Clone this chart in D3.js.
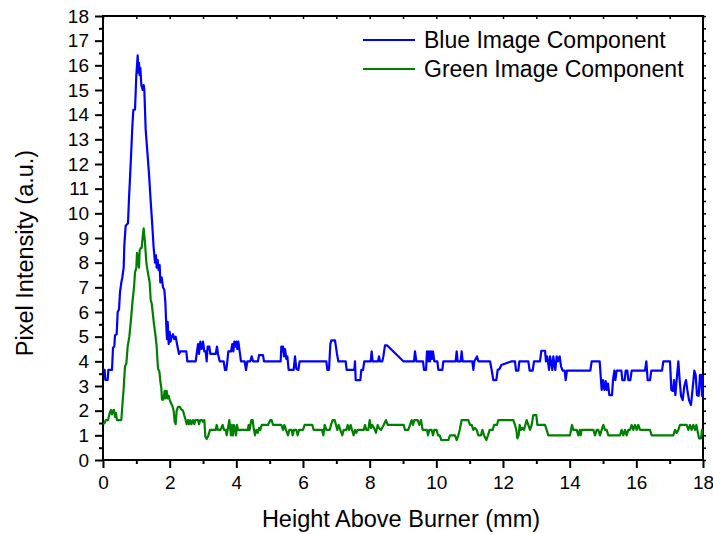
<!DOCTYPE html>
<html>
<head>
<meta charset="utf-8">
<script src="https://cdn.jsdelivr.net/npm/d3@7"></script>
<style>
  html, body { margin: 0; padding: 0; background: #fff; }
  svg { display: block; font-family: "Liberation Sans", Arial, sans-serif; }
</style>
</head>
<body>
<svg id="chart" width="713" height="534"></svg>
<script>
// Axis settings
const xDomain = [0, 18];
const yDomain = [0, 18];
const xMajorTicks = [0, 2, 4, 6, 8, 10, 12, 14, 16, 18];
const yMajorTicks = d3.range(0, 19);
const xLabel = "Height Above Burner (mm)";
const yLabel = "Pixel Intensity (a.u.)";
const seriesNames = ["Blue Image Component", "Green Image Component"];
const seriesColors = ["#0000ff", "#008000"];

// Blue component profile: [height (mm), intensity]
const blueProfile = [
  [0.00,3.65],[0.05,3.65],[0.07,3.25],[0.14,3.25],[0.16,3.65],[0.27,3.65],[0.30,4.55],[0.34,4.6],
  [0.36,5.05],[0.41,5.1],[0.44,6.0],[0.48,6.1],[0.51,6.8],[0.55,7.2],[0.58,7.4],[0.62,7.8],
  [0.64,8.7],[0.68,9.5],[0.75,9.6],[0.78,10.6],[0.83,12.0],[0.88,13.5],[0.91,14.2],[0.96,14.2],
  [1.00,15.6],[1.04,16.4],[1.06,15.7],[1.08,16.1],[1.10,15.6],[1.12,15.9],[1.15,15.2],[1.19,15.0],
  [1.22,15.2],[1.24,15.0],[1.28,13.4],[1.33,12.5],[1.38,11.6],[1.43,10.5],[1.47,9.7],[1.52,8.6],
  [1.56,8.0],[1.59,8.3],[1.61,7.8],[1.64,8.1],[1.67,7.7],[1.70,7.9],[1.72,7.2],[1.76,7.4],
  [1.80,7.0],[1.84,6.9],[1.87,6.4],[1.90,5.4],[1.92,4.9],[1.94,5.6],[1.97,4.7],[2.00,5.2],
  [2.03,4.8],[2.06,5.0],[2.10,5.1],[2.14,4.9],[2.18,5.0],[2.22,4.7],[2.28,4.3],[2.32,4.4],
  [2.50,4.4],[2.53,4.0],[2.78,4.0],[2.81,4.3],[2.85,4.7],[2.88,4.3],[2.92,4.8],[2.96,4.5],
  [3.00,4.8],[3.04,4.4],[3.08,4.4],[3.11,4.0],[3.14,4.6],[3.19,4.6],[3.22,4.3],[3.38,4.3],
  [3.42,4.6],[3.45,4.3],[3.50,4.0],[3.62,4.0],[3.66,3.65],[3.70,3.65],[3.73,4.0],[3.76,4.4],
  [3.84,4.4],[3.88,4.7],[3.91,4.4],[3.94,4.8],[3.97,4.6],[4.00,4.8],[4.03,4.5],[4.06,4.8],
  [4.10,4.4],[4.14,4.0],[4.25,4.0],[4.29,3.65],[4.33,4.0],[4.42,4.0],[4.46,4.2],[4.50,4.0],
  [4.65,4.0],[4.68,4.25],[4.80,4.25],[4.83,4.0],[5.33,4.0],[5.35,4.6],[5.38,4.4],[5.40,4.6],
  [5.43,4.2],[5.46,4.5],[5.50,4.1],[5.53,4.2],[5.57,3.65],[5.72,3.65],[5.76,4.2],[5.80,3.7],
  [5.86,3.65],[5.90,4.0],[6.70,4.0],[6.73,3.65],[6.78,3.65],[6.82,4.7],[6.85,4.85],[6.96,4.85],
  [7.02,4.3],[7.06,4.0],[7.28,4.0],[7.31,3.65],[7.54,3.65],[7.56,4.0],[7.58,3.24],[7.72,3.24],
  [7.75,3.65],[7.80,3.65],[7.84,4.0],[8.03,4.0],[8.06,4.4],[8.09,4.0],[8.25,4.0],[8.28,4.2],
  [8.31,4.0],[8.38,4.0],[8.41,4.2],[8.46,4.65],[8.52,4.65],[9.01,4.0],[9.33,4.0],[9.36,4.4],
  [9.40,4.0],[9.60,4.0],[9.63,3.65],[9.69,3.65],[9.72,4.4],[9.75,4.0],[9.78,4.4],[9.81,4.0],
  [9.84,4.4],[9.87,4.1],[9.90,4.4],[9.94,4.0],[10.03,4.0],[10.06,3.65],[10.18,3.65],[10.21,4.0],
  [10.58,4.0],[10.61,4.4],[10.64,4.0],[10.73,4.0],[10.76,4.4],[10.79,4.0],[11.08,4.0],[11.11,3.65],
  [11.14,4.0],[11.22,4.2],[11.26,4.0],[11.61,4.0],[11.66,3.65],[11.71,3.24],[11.80,3.24],[11.84,3.65],
  [11.90,3.7],[11.95,3.85],[12.26,4.0],[12.36,4.0],[12.39,3.62],[12.46,3.62],[12.49,4.0],[12.76,4.0],
  [12.80,3.62],[12.89,3.62],[12.93,4.0],[13.11,4.0],[13.15,4.43],[13.26,4.43],[13.29,4.0],[13.32,4.2],
  [13.36,3.9],[13.38,3.65],[13.41,4.2],[13.44,4.0],[13.48,3.65],[13.51,4.2],[13.54,3.9],[13.57,3.65],
  [13.61,4.2],[13.65,4.0],[13.70,4.2],[13.74,3.8],[13.79,3.62],[13.85,3.62],[13.88,3.24],[13.92,3.62],
  [14.62,3.62],[14.66,4.0],[14.90,4.0],[14.96,2.84],[15.00,3.24],[15.04,2.84],[15.08,3.2],[15.11,2.84],
  [15.15,3.1],[15.19,2.63],[15.27,2.63],[15.30,3.24],[15.34,3.62],[15.37,3.24],[15.41,3.62],[15.55,3.62],
  [15.58,3.24],[15.65,3.24],[15.68,3.62],[15.73,3.62],[15.76,3.24],[15.82,3.24],[15.86,3.62],[16.26,3.62],
  [16.30,4.0],[16.34,3.24],[16.41,3.24],[16.45,3.62],[16.77,3.62],[16.81,4.0],[17.01,4.0],[17.05,2.84],
  [17.10,2.8],[17.13,3.24],[17.17,2.63],[17.21,3.24],[17.26,4.0],[17.30,3.24],[17.34,2.6],[17.39,2.43],
  [17.44,3.0],[17.49,3.24],[17.53,2.84],[17.58,2.43],[17.64,2.23],[17.69,2.9],[17.74,3.62],[17.78,3.45],
  [17.82,2.63],[17.87,2.6],[17.91,3.45],[17.94,3.45],[17.97,2.6],[18.00,3.45]
];

// Green component profile: [height (mm), intensity]
const greenProfile = [
  [0.00,1.45],[0.05,1.5],[0.08,1.62],[0.15,1.62],[0.20,1.9],[0.24,2.03],[0.27,1.85],[0.30,2.0],
  [0.33,2.03],[0.36,1.75],[0.39,1.9],[0.42,1.62],[0.55,1.62],[0.58,2.2],[0.62,2.9],[0.66,3.8],
  [0.70,3.9],[0.74,4.6],[0.79,5.0],[0.84,5.7],[0.89,6.5],[0.93,7.0],[0.96,7.6],[1.00,7.8],
  [1.02,8.4],[1.04,7.9],[1.06,8.3],[1.08,7.8],[1.10,8.5],[1.14,8.6],[1.16,8.6],[1.19,9.05],
  [1.22,9.39],[1.26,8.8],[1.29,8.2],[1.31,7.9],[1.36,7.5],[1.40,7.2],[1.43,6.5],[1.46,6.35],
  [1.49,6.0],[1.53,5.5],[1.57,5.1],[1.61,4.6],[1.65,3.7],[1.69,3.6],[1.72,3.2],[1.75,2.9],
  [1.77,2.45],[1.81,2.45],[1.85,2.8],[1.88,2.5],[1.91,2.8],[1.94,2.5],[1.97,2.6],[2.00,2.45],
  [2.04,2.3],[2.08,2.2],[2.12,2.0],[2.15,1.55],[2.18,1.45],[2.21,2.0],[2.25,2.15],[2.31,2.15],
  [2.35,2.05],[2.40,2.0],[2.44,1.8],[2.48,1.62],[2.51,1.45],[2.55,1.62],[2.58,1.45],[2.62,1.62],
  [2.65,1.45],[2.70,1.62],[2.74,1.45],[2.77,1.62],[2.85,1.62],[2.88,1.45],[2.92,1.62],[2.97,1.62],
  [3.00,1.55],[3.04,1.62],[3.07,0.95],[3.11,0.85],[3.15,0.95],[3.21,1.22],[3.38,1.22],[3.41,1.42],
  [3.45,1.22],[3.52,1.22],[3.55,1.3],[3.59,1.42],[3.63,1.22],[3.68,1.22],[3.71,1.0],[3.75,1.3],
  [3.79,1.62],[3.82,1.22],[3.84,1.0],[3.87,1.42],[3.90,1.0],[3.93,1.42],[3.97,1.22],[3.99,1.0],
  [4.02,1.42],[4.05,1.22],[4.34,1.22],[4.37,1.42],[4.40,1.22],[4.45,1.62],[4.49,1.62],[4.52,1.3],
  [4.56,1.0],[4.60,1.22],[4.64,1.1],[4.68,1.3],[4.72,1.22],[4.76,1.42],[4.95,1.42],[5.02,1.62],
  [5.06,1.62],[5.10,1.42],[5.35,1.42],[5.40,1.22],[5.44,1.42],[5.49,1.22],[5.55,1.0],[5.59,1.22],
  [5.66,1.22],[5.69,1.0],[5.73,1.22],[5.80,1.22],[5.84,1.0],[5.88,1.22],[6.00,1.22],[6.05,1.42],
  [6.28,1.42],[6.32,1.22],[6.57,1.22],[6.61,1.0],[6.65,1.42],[6.70,1.22],[6.80,1.22],[6.84,1.42],
  [6.89,1.62],[6.95,1.62],[6.99,1.42],[7.03,1.22],[7.07,1.42],[7.12,1.22],[7.18,1.0],[7.22,1.22],
  [7.30,1.22],[7.34,1.42],[7.38,1.22],[7.43,1.42],[7.47,1.22],[7.52,1.0],[7.56,1.22],[7.60,1.1],
  [7.64,1.22],[7.82,1.22],[7.86,1.42],[7.90,1.22],[7.96,1.22],[8.00,1.62],[8.04,1.3],[8.08,1.42],
  [8.13,1.3],[8.19,1.1],[8.24,1.42],[8.28,1.3],[8.34,1.22],[8.42,1.42],[8.49,1.62],[8.54,1.42],
  [9.02,1.42],[9.06,1.22],[9.16,1.22],[9.21,1.42],[9.26,1.62],[9.30,1.42],[9.34,1.62],[9.44,1.62],
  [9.49,1.42],[9.54,1.62],[9.59,1.22],[9.72,1.22],[9.75,1.0],[9.79,1.22],[9.86,1.22],[9.90,1.0],
  [9.94,1.22],[10.01,1.22],[10.05,1.0],[10.10,1.0],[10.15,0.81],[10.36,0.81],[10.41,1.0],[10.56,1.0],
  [10.61,0.81],[10.66,1.0],[10.70,1.22],[10.76,1.62],[10.96,1.62],[11.01,1.42],[11.06,1.42],[11.11,1.22],
  [11.16,1.3],[11.21,1.22],[11.26,1.0],[11.34,1.0],[11.38,1.22],[11.43,1.0],[11.50,0.81],[11.55,1.0],
  [11.60,1.22],[11.69,1.22],[11.73,1.42],[11.82,1.42],[11.86,1.62],[12.31,1.62],[12.36,1.42],[12.40,1.22],
  [12.43,0.88],[12.47,1.0],[12.50,1.42],[12.54,1.22],[12.58,1.3],[12.63,1.22],[12.67,1.42],[12.71,1.62],
  [12.76,1.42],[12.81,1.22],[12.86,1.42],[12.91,1.82],[13.00,1.82],[13.03,1.42],[13.26,1.42],[13.31,1.22],
  [13.36,1.0],[14.01,1.0],[14.04,1.22],[14.07,1.42],[14.11,1.22],[14.21,1.22],[14.26,1.0],[14.30,1.22],
  [14.33,1.0],[14.36,1.22],[14.71,1.22],[14.76,1.0],[14.81,1.22],[14.86,1.22],[14.91,1.0],[14.96,1.22],
  [15.01,1.42],[15.06,1.22],[15.11,1.22],[15.16,1.0],[15.51,1.0],[15.56,1.22],[15.61,1.0],[15.66,1.22],
  [15.71,1.0],[15.76,1.22],[15.81,1.22],[15.86,1.42],[15.91,1.22],[15.96,1.42],[16.01,1.22],[16.06,1.42],
  [16.11,1.22],[16.41,1.22],[16.46,1.0],[17.11,1.0],[17.16,1.22],[17.21,1.1],[17.26,1.22],[17.31,1.42],
  [17.51,1.42],[17.56,1.22],[17.61,1.42],[17.66,1.22],[17.71,1.42],[17.76,1.22],[17.80,1.42],[17.84,1.15],
  [17.88,0.88],[17.94,0.88],[17.97,1.22],[18.00,1.0]
];

const margin = { top: 16, right: 10, bottom: 74, left: 103 };
const width = 713, height = 534;
const innerW = width - margin.left - margin.right;   // 600
const innerH = height - margin.top - margin.bottom;  // 444

const svg = d3.select("#chart");
const g = svg.append("g").attr("transform", `translate(${margin.left},${margin.top})`);

const x = d3.scaleLinear().domain(xDomain).range([0, innerW]);
const y = d3.scaleLinear().domain(yDomain).range([innerH, 0]);

const tickFont = 19;

// Bottom axis: labelled major ticks plus unlabelled minor ticks
const xMinor = d3.range(1, 18, 2);
g.append("g").attr("transform", `translate(0,${innerH})`)
  .call(d3.axisBottom(x).tickValues(xMinor).tickSize(4).tickFormat(""))
  .call(a => a.select(".domain").remove())
  .call(a => a.selectAll("line").attr("stroke-width", 2));
g.append("g").attr("class", "x-axis").attr("transform", `translate(0,${innerH})`)
  .call(d3.axisBottom(x).tickValues(xMajorTicks).tickSize(8).tickPadding(8).tickFormat(d3.format("d")))
  .call(a => a.select(".domain").remove())
  .call(a => a.selectAll("line").attr("stroke-width", 2))
  .call(a => a.selectAll("text").attr("font-size", tickFont).attr("fill", "#000")
    .attr("font-family", "'Liberation Sans', Arial, sans-serif"));

// Left axis
const yMinor = d3.range(0.5, 18, 1);
g.append("g")
  .call(d3.axisLeft(y).tickValues(yMinor).tickSize(4).tickFormat(""))
  .call(a => a.select(".domain").remove())
  .call(a => a.selectAll("line").attr("stroke-width", 2));
g.append("g")
  .call(d3.axisLeft(y).tickValues(yMajorTicks).tickSize(8).tickPadding(6).tickFormat(d3.format("d")))
  .call(a => a.select(".domain").remove())
  .call(a => a.selectAll("line").attr("stroke-width", 2))
  .call(a => a.selectAll("text").attr("font-size", tickFont).attr("fill", "#000")
    .attr("font-family", "'Liberation Sans', Arial, sans-serif"));

// Right axis: small outward ticks, no labels
g.append("g").attr("transform", `translate(${innerW},0)`)
  .call(d3.axisRight(y).tickValues(d3.range(0, 18.01, 0.5)).tickSize(3).tickFormat(""))
  .call(a => a.select(".domain").remove())
  .call(a => a.selectAll("line").attr("stroke-width", 1.5));

// Top axis: small inward ticks, no labels
g.append("g")
  .call(d3.axisBottom(x).tickValues(d3.range(0, 18.01, 1)).tickSize(3).tickFormat(""))
  .call(a => a.select(".domain").remove())
  .call(a => a.selectAll("line").attr("stroke-width", 1.5));

// Frame
g.append("rect")
  .attr("x", 0).attr("y", 0).attr("width", innerW).attr("height", innerH)
  .attr("fill", "none").attr("stroke", "#000").attr("stroke-width", 2);

// Data lines
const line = d3.line().x(d => x(d[0])).y(d => y(d[1]));
svg.append("defs").append("clipPath").attr("id", "plot-clip")
  .append("rect").attr("x", 0).attr("y", 0).attr("width", innerW).attr("height", innerH);

const plot = g.append("g").attr("clip-path", "url(#plot-clip)");
[blueProfile, greenProfile].forEach((data, i) => {
  plot.append("path")
    .datum(data)
    .attr("fill", "none")
    .attr("stroke", seriesColors[i])
    .attr("stroke-width", 2.2)
    .attr("stroke-linejoin", "round")
    .attr("d", line);
});

// Axis titles
svg.append("text")
  .attr("x", 401)
  .attr("y", 527)
  .attr("text-anchor", "middle")
  .attr("font-size", 23.5)
  .attr("fill", "#000")
  .text(xLabel);

svg.append("text")
  .attr("transform", `translate(33,253) rotate(-90)`)
  .attr("text-anchor", "middle")
  .attr("font-size", 23.5)
  .attr("fill", "#000")
  .text(yLabel);

// Legend
const legend = svg.append("g").attr("transform", "translate(363,40)");
seriesNames.forEach((name, i) => {
  const row = legend.append("g").attr("transform", `translate(0,${i * 29})`);
  row.append("line").attr("x1", 0).attr("x2", 52).attr("y1", 0).attr("y2", 0)
    .attr("stroke", seriesColors[i]).attr("stroke-width", 2.2);
  row.append("text").attr("x", 61).attr("y", 0).attr("dy", "0.35em")
    .attr("font-size", 23).attr("fill", "#000").text(name);
});
</script>
</body>
</html>
